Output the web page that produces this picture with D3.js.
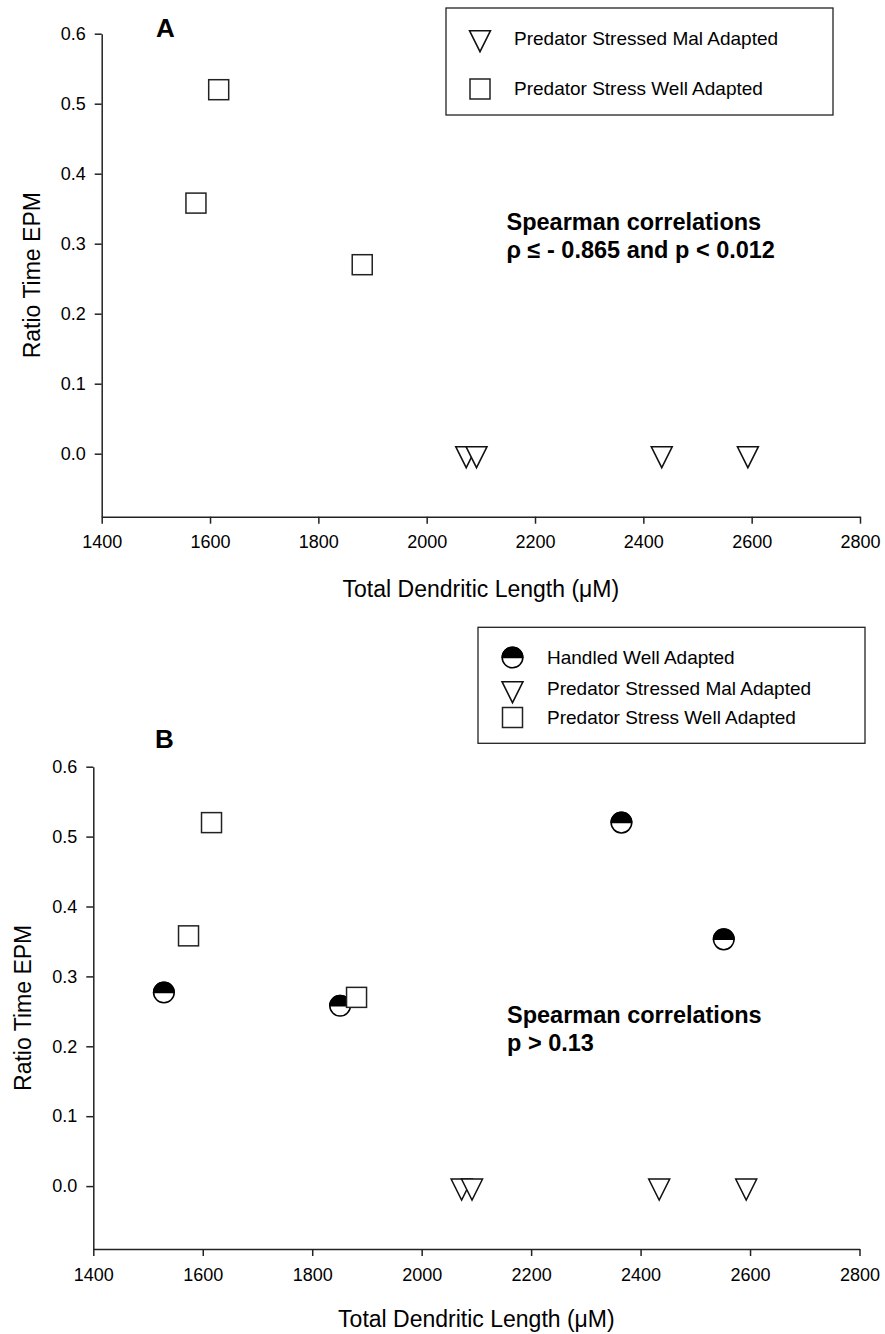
<!DOCTYPE html>
<html>
<head>
<meta charset="utf-8">
<script src="https://cdn.jsdelivr.net/npm/d3@7"></script>
<style>
    body { margin: 0; background: #fff; }
    svg text { font-family: "Liberation Sans", Arial, Helvetica, sans-serif; fill: #000; }
    .axis path, .axis line { stroke: #222; stroke-width: 1.5px; }
    .axis text { font-size: 18px; }
</style>
</head>
<body>
<div id="chart"></div>
<script>

// data
var xTicks = [1400, 1600, 1800, 2000, 2200, 2400, 2600, 2800];
var yTicks = [0, 0.1, 0.2, 0.3, 0.4, 0.5, 0.6];

var stressWellX = [1616, 1574, 1881];
var stressWellY = [0.52, 0.358, 0.27];

var stressMalX = [2073, 2092, 2434, 2593];
var stressMalY = [0, 0, 0, 0];

var handledX = [1529, 1851, 2365, 2552];
var handledY = [0.277, 0.258, 0.52, 0.353];

var seriesNames = ["Handled Well Adapted", "Predator Stressed Mal Adapted", "Predator Stress Well Adapted"];

var svg = d3.select("#chart").append("svg")
    .attr("width", 885)
    .attr("height", 1334);

function zip(xs, ys) {
    return xs.map(function(x, i) { return {x: x, y: ys[i]}; });
}

// marker drawing helpers
function drawTriangle(sel) {
    // inverted, centroid on the point
    sel.append("path")
        .attr("d", "M-10.5,-7L10.5,-7L0,14Z")
        .attr("fill", "#fff")
        .attr("stroke", "#111")
        .attr("stroke-width", 1.5);
}
function drawSquare(sel) {
    sel.append("rect")
        .attr("x", -10).attr("y", -10)
        .attr("width", 20).attr("height", 20)
        .attr("fill", "#fff")
        .attr("stroke", "#222")
        .attr("stroke-width", 1.5);
}
function drawHalfCircle(sel) {
    var r = 10.3;
    sel.append("circle")
        .attr("r", r)
        .attr("fill", "#fff")
        .attr("stroke", "#000")
        .attr("stroke-width", 1.5);
    sel.append("path")
        .attr("d", "M" + (-r) + ",0A" + r + "," + r + " 0 0 1 " + r + ",0Z")
        .attr("fill", "#000")
        .attr("stroke", "#000")
        .attr("stroke-width", 1.5);
}

ScatterPanel = function(_opts) {
    this.opts = _opts;
    this.initVis();
};

ScatterPanel.prototype.initVis = function() {
    var vis = this;
    var o = vis.opts;

    vis.g = svg.append("g");

    vis.x = d3.scaleLinear()
        .domain([1400, 2800])
        .range([o.left, o.right]);

    vis.y = d3.scaleLinear()
        .domain([-0.09, 0.6])
        .range([o.bottom, o.top]);

    vis.xAxis = d3.axisBottom(vis.x)
        .tickValues(xTicks)
        .tickFormat(d3.format("d"))
        .tickSize(7)
        .tickSizeOuter(0)
        .tickPadding(12);

    vis.yAxis = d3.axisLeft(vis.y)
        .tickValues(yTicks)
        .tickFormat(d3.format(".1f"))
        .tickSize(7)
        .tickSizeOuter(0)
        .tickPadding(9);

    vis.g.append("g")
        .attr("class", "axis")
        .attr("transform", "translate(0," + o.bottom + ")")
        .call(vis.xAxis);

    vis.g.append("g")
        .attr("class", "axis")
        .attr("transform", "translate(" + o.left + ",0)")
        .call(vis.yAxis);

    vis.g.selectAll(".axis .domain").attr("stroke", "#222");

    // axis titles
    vis.g.append("text")
        .attr("x", (o.left + o.right) / 2)
        .attr("y", o.xTitleY)
        .attr("text-anchor", "middle")
        .style("font-size", "23px")
        .text("Total Dendritic Length (\u03bcM)");

    vis.g.append("text")
        .attr("transform", "translate(" + o.yTitleX + "," + ((o.top + o.bottom) / 2) + ") rotate(-90)")
        .attr("text-anchor", "middle")
        .style("font-size", "23px")
        .text("Ratio Time EPM");

    // panel letter
    vis.g.append("text")
        .attr("x", o.letterX)
        .attr("y", o.letterY)
        .style("font-size", "26px")
        .style("font-weight", "bold")
        .text(o.letter);

    // annotation
    vis.g.append("text")
        .attr("x", o.noteX)
        .attr("y", o.noteY)
        .style("font-size", "23.5px")
        .style("font-weight", "bold")
        .selectAll("tspan")
        .data(o.note)
        .enter().append("tspan")
        .attr("x", o.noteX)
        .attr("dy", function(d, i) { return i === 0 ? 0 : 28; })
        .text(function(d) { return d; });

    vis.updateVis();
    vis.drawLegend();
};

ScatterPanel.prototype.updateVis = function() {
    var vis = this;
    var o = vis.opts;

    if (o.showHandled) {
        vis.g.selectAll(".handled")
            .data(zip(handledX, handledY))
            .enter().append("g")
            .attr("class", "handled")
            .attr("transform", function(d) { return "translate(" + vis.x(d.x) + "," + vis.y(d.y) + ")"; })
            .call(drawHalfCircle);
    }

    vis.g.selectAll(".mal")
        .data(zip(stressMalX, stressMalY))
        .enter().append("g")
        .attr("class", "mal")
        .attr("transform", function(d) { return "translate(" + vis.x(d.x) + "," + vis.y(d.y) + ")"; })
        .call(drawTriangle);

    vis.g.selectAll(".well")
        .data(zip(stressWellX, stressWellY))
        .enter().append("g")
        .attr("class", "well")
        .attr("transform", function(d) { return "translate(" + vis.x(d.x) + "," + vis.y(d.y) + ")"; })
        .call(drawSquare);
};

ScatterPanel.prototype.drawLegend = function() {
    var vis = this;
    var L = vis.opts.legend;

    vis.g.append("rect")
        .attr("x", L.x).attr("y", L.y)
        .attr("width", L.w).attr("height", L.h)
        .attr("fill", "#fff")
        .attr("stroke", "#222")
        .attr("stroke-width", 1.3);

    var drawers = {};
    drawers[seriesNames[0]] = drawHalfCircle;
    drawers[seriesNames[1]] = drawTriangle;
    drawers[seriesNames[2]] = drawSquare;

    var items = vis.g.selectAll(".legend-item")
        .data(L.items)
        .enter().append("g")
        .attr("class", "legend-item");

    items.each(function(d) {
        d3.select(this).append("g")
            .attr("transform", "translate(" + L.symX + "," + d.symY + ")")
            .call(drawers[d.name]);
        d3.select(this).append("text")
            .attr("x", L.textX)
            .attr("y", d.textY)
            .style("font-size", "19px")
            .text(d.name);
    });
};

var panelA = new ScatterPanel({
    left: 101.7, right: 860, top: 33.7, bottom: 516.7,
    xTitleY: 597, yTitleX: 40,
    letter: "A", letterX: 156, letterY: 37.3,
    note: ["Spearman correlations", "\u03c1 \u2264 - 0.865 and p < 0.012"],
    noteX: 506.5, noteY: 230,
    showHandled: false,
    legend: {
        x: 446, y: 8, w: 387, h: 107, symX: 480, textX: 514,
        items: [
            {name: seriesNames[1], symY: 37.7, textY: 45},
            {name: seriesNames[2], symY: 89, textY: 95}
        ]
    }
});

var panelB = new ScatterPanel({
    left: 93.3, right: 859.5, top: 766.7, bottom: 1249,
    xTitleY: 1327, yTitleX: 31,
    letter: "B", letterX: 155, letterY: 748.3,
    note: ["Spearman correlations", "p > 0.13"],
    noteX: 507, noteY: 1023,
    showHandled: true,
    legend: {
        x: 478, y: 627.3, w: 387, h: 116, symX: 512.5, textX: 547,
        items: [
            {name: seriesNames[0], symY: 657.5, textY: 664.3},
            {name: seriesNames[1], symY: 688.7, textY: 695},
            {name: seriesNames[2], symY: 717.5, textY: 724.3}
        ]
    }
});

</script>
</body>
</html>
